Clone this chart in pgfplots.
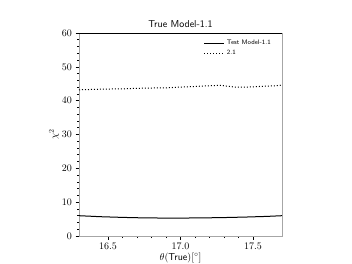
\documentclass[border=0pt]{standalone}
\usepackage{pgfplots}
\pgfplotsset{compat=1.18}
\usepackage{fontspec}
\begin{document}
\begin{tikzpicture}[x=1pt,y=1pt]
\path[use as bounding box] (0,0) rectangle (352,264);
\begin{axis}[
  at={(79pt,28pt)}, anchor=south west,
  scale only axis, width=203pt, height=203pt,
  xmin=16.3, xmax=17.7, ymin=0, ymax=60,
  xtick={16.5,17.0,17.5},
  xticklabels={16.5,17.0,17.5},
  ytick={0,10,20,30,40,50,60},
  minor x tick num=4, minor y tick num=4,
  xtick pos=left, ytick pos=left,
  tick align=outside,
  major tick length=3.5pt, minor tick length=2pt,
  tick style={black, line width=0.6pt},
  axis line style={gray!70, line width=0.8pt},
  title={\sffamily True Model-1.1},
  title style={yshift=-4pt},
  xlabel={$\theta$(\textsf{True})[$^\circ$]},
  ylabel={$\chi^2$},
  xlabel style={yshift=4pt},
  ylabel style={yshift=-4pt},
  legend style={draw=none, fill=none, at={(0.97,0.985)}, anchor=north east, font=\sffamily\fontsize{6.5}{7}\selectfont, row sep=0pt},
  legend image post style={xscale=1.2},
  legend cell align=left,
  clip=false,
]
\addplot[black, line width=1pt] coordinates {
(16.30,6.0) (16.45,5.7) (16.60,5.5) (16.75,5.35) (16.90,5.3) (17.00,5.3) (17.15,5.35) (17.30,5.45) (17.45,5.6) (17.60,5.8) (17.70,6.0)
};
\addlegendentry{Test Model-1.1}
\addplot[black, line width=1pt, dotted] coordinates {
(16.30,43.2) (16.45,43.4) (16.60,43.5) (16.75,43.7) (16.90,43.8) (17.00,44.0) (17.10,44.2) (17.20,44.4) (17.27,44.55) (17.32,44.3) (17.38,44.0) (17.45,44.0) (17.55,44.2) (17.65,44.4) (17.70,44.6)
};
\addlegendentry{2.1}
\draw[black, line width=0.8pt] (rel axis cs:0,1) -- (rel axis cs:1,1);
\end{axis}
\end{tikzpicture}
\end{document}
